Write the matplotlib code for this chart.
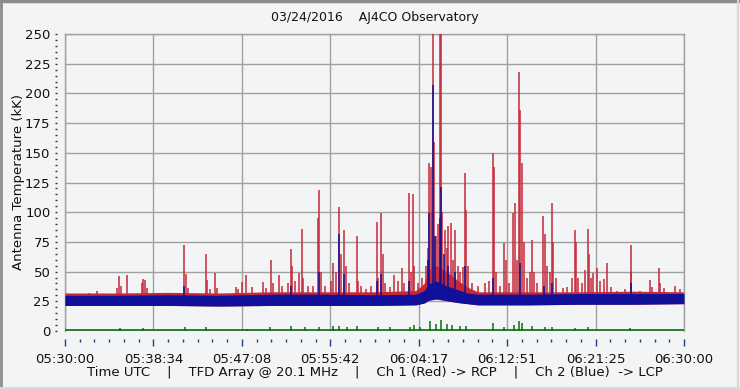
import matplotlib
matplotlib.use("Agg")
import matplotlib.pyplot as plt
import numpy as np
from matplotlib.lines import Line2D

# ---------------- text ----------------
title = "03/24/2016    AJ4CO Observatory"
xlabel = "Time UTC    |    TFD Array @ 20.1 MHz    |    Ch 1 (Red) -> RCP    |    Ch 2 (Blue)  -> LCP"
ylabel = "Antenna Temperature (kK)"
tick_labels = ["05:30:00", "05:38:34", "05:47:08", "05:55:42",
               "06:04:17", "06:12:51", "06:21:25", "06:30:00"]

# ---------------- data (minutes after 05:30:00 UTC, kK) ----------------
band_t = [0, 5, 10, 15, 20, 25, 30, 34, 34.8, 35.3, 36, 37, 38, 39, 40, 45, 50, 55, 60]
red_hi = [32, 32, 32.5, 32, 33, 33, 33, 34, 40, 52, 55, 50, 43, 37, 33, 33, 33, 33.5, 33]
blue_hi = [30, 30, 30.5, 30, 31, 31, 30.5, 31, 34, 40, 42, 38, 35, 32, 31, 31, 31.5, 31.5, 31.5]
blue_lo = [21.5, 21.5, 21.5, 21, 21.5, 21.5, 21.5, 22, 23.5, 26, 27, 25.5, 24, 23, 22, 22, 22.5, 22.5, 23]

red_spike_t = [2.36, 3.13, 5.04, 5.26, 5.43, 6.04, 7.42, 7.59, 7.78, 7.95, 8.82,
               11.56, 11.73, 11.92, 13.67, 13.79, 14.05, 14.54, 14.73, 16.55, 16.77,
               17.19, 17.57, 18.10, 19.22, 19.48, 19.94, 20.16, 20.77, 21.03, 21.61,
               21.90, 22.03, 22.30, 22.65, 22.94, 23.07, 23.55, 24.04, 24.55, 24.65,
               24.82, 25.20, 25.78, 26.00, 26.26, 26.59, 26.76, 27.04, 27.24, 27.53,
               28.27, 28.40, 28.69, 29.18, 29.66, 30.21, 30.34, 30.66, 30.80, 31.02,
               31.50, 31.92, 32.28, 32.63, 32.86, 33.37, 33.49, 33.70, 33.83, 34.22,
               34.60, 34.99, 35.19, 35.31, 35.43, 35.57, 35.70, 35.77, 35.96, 36.15,
               36.35, 36.44, 36.59, 36.86, 37.02, 37.15, 37.41, 37.61, 37.83, 38.09,
               38.29, 38.61, 38.80, 38.90, 39.06, 39.45, 40.03, 40.71, 41.10, 41.52,
               41.61, 41.78, 42.16, 42.58, 42.74, 43.04, 43.46, 43.62, 43.81, 44.04,
               44.10, 44.33, 44.45, 44.78, 45.07, 45.30, 45.46, 45.76, 46.36, 46.55,
               46.72, 47.01, 47.23, 47.35, 47.59, 48.27, 48.63, 49.14, 49.43, 49.53,
               49.72, 50.11, 50.40, 50.69, 50.79, 50.98, 51.21, 51.60, 51.86, 52.27,
               52.57, 52.92, 53.50, 54.28, 54.83, 54.91, 55.74, 56.70, 56.90, 57.58,
               57.68, 58.06, 59.12, 59.60]
red_spike_v = [32, 34, 36, 46, 38, 47, 40, 44, 43, 36, 32,
               72, 48, 36, 65, 43, 35, 49, 36, 37, 35,
               41, 47, 37, 41, 36, 60, 40, 47, 38, 40,
               69, 55, 42, 49, 86, 45, 38, 38, 95, 119,
               50, 38, 42, 57, 50, 104, 65, 85, 55, 40,
               80, 42, 38, 35, 38, 92, 45, 99, 65, 40,
               37, 47, 42, 53, 40, 116, 50, 115, 55, 40,
               45, 55, 70, 141, 138, 100, 260, 159, 80, 90,
               260, 260, 100, 85, 70, 88, 91, 60, 85, 55,
               50, 54, 133, 102, 55, 40, 38, 40, 42, 150,
               138, 50, 38, 74, 60, 40, 99, 108, 60, 218,
               186, 141, 75, 45, 50, 77, 50, 40, 97, 82,
               55, 50, 108, 75, 45, 36, 37, 45, 85, 75,
               45, 40, 51, 86, 65, 45, 49, 53, 42, 44,
               57, 37, 34, 35, 72, 50, 34, 43, 37, 53,
               40, 36, 38, 35]

blue_spike_t = [11.58, 21.90, 24.65, 26.59, 27.04, 30.21, 30.66, 33.37, 35.20, 35.31,
                35.70, 35.90, 36.35, 36.44, 36.70, 37.10, 37.80, 38.80, 41.52, 44.10,
                46.40, 47.20, 54.83]
blue_spike_v = [38, 38, 50, 82, 48, 42, 48, 42, 60, 99,
                207, 80, 95, 121, 65, 55, 50, 55, 45, 57,
                38, 40, 40]

green_base = 0.6
green_t = [5.3, 7.6, 11.6, 13.7, 17.6, 19.9, 21.9, 23.3, 24.6, 26.0, 26.6, 27.3,
           28.3, 30.3, 31.5, 33.4, 33.8, 34.4, 35.4, 36.0, 36.4, 37.0, 37.5, 38.3,
           38.9, 41.5, 42.6, 43.5, 44.0, 44.3, 45.3, 46.5, 47.2, 49.4, 50.7, 54.8]
green_v = [2.5, 2.5, 3, 3.5, 2, 3, 4, 3, 3.5, 4, 4.5, 3,
           4, 3, 3.5, 3, 5, 3, 8, 6, 9, 6, 5, 4,
           4, 7, 3, 5, 8, 7, 4, 3, 3.5, 2.5, 3, 2.5]

# ---------------- style ----------------
BG = "#f3f4f6"
GRID = "#a0a0a0"
RED = "#c62838"
BLUE = "#10109a"
GREEN = "#0b6b12"
TICK = "#203c80"

plt.rcParams["font.family"] = ["DejaVu Sans"]
fig = plt.figure(figsize=(7.4, 3.89), dpi=100, facecolor=BG)
ax = fig.add_axes([65 / 740, 1 - 331 / 389, (684 - 65) / 740, (331 - 34) / 389])
ax.set_facecolor(BG)

# red channel
ax.fill_between(band_t, blue_lo, red_hi, color=RED, lw=0, zorder=2)
ax.vlines(red_spike_t, 27, red_spike_v, color=RED, lw=1.1, zorder=3)
# blue channel
ax.fill_between(band_t, blue_lo, blue_hi, color=BLUE, lw=0, zorder=4)
ax.vlines(blue_spike_t, 27, blue_spike_v, color=BLUE, lw=1.1, zorder=5)
# green channel
ax.axhline(green_base, color=GREEN, lw=1.2, zorder=6)
ax.vlines(green_t, 0, green_v, color=GREEN, lw=1.1, zorder=6)

ax.set_xlim(0, 60)
ax.set_ylim(0, 250)

major_x = np.linspace(0, 60, 8)
ax.set_xticks(major_x)
ax.set_xticklabels(tick_labels)
ax.set_xticks(np.linspace(0, 60, 43), minor=True)
ax.set_yticks(np.arange(0, 251, 25))
ax.set_yticks(np.arange(0, 251, 5), minor=True)

ax.grid(True, which="major", color=GRID, lw=1, zorder=1)
ax.set_axisbelow(True)

for s in ("top", "right"):
    ax.spines[s].set_color(GRID)
    ax.spines[s].set_linewidth(1)
for s in ("left", "bottom"):
    ax.spines[s].set_position(("outward", 6))
    ax.spines[s].set_color("none")
ax.axvline(0, color=GRID, lw=1, clip_on=False, zorder=1)

ax.tick_params(axis="x", which="major", length=5, width=1, color=TICK, pad=5,
               labelsize=9.5, labelcolor="#111111")
ax.tick_params(axis="x", which="minor", length=2.5, width=1, color=TICK)
ax.tick_params(axis="y", which="both", length=1.5, width=1, color="#333333", pad=3,
               labelsize=9.5, labelcolor="#111111")

ax.set_title(title, fontsize=9, color="#111111", pad=9)
ax.set_xlabel(xlabel, fontsize=9.5, color="#111111", labelpad=0)
ax.set_ylabel(ylabel, fontsize=9.5, color="#111111", labelpad=0)

# window border
fig.add_artist(Line2D([0, 1], [0.998, 0.998], transform=fig.transFigure, color="#8c8c8c", lw=2.5))
fig.add_artist(Line2D([0.001, 0.001], [0, 1], transform=fig.transFigure, color="#8c8c8c", lw=2))
fig.add_artist(Line2D([0.997, 0.997], [0, 1], transform=fig.transFigure, color="#d8d8d8", lw=1.5))
fig.add_artist(Line2D([0, 1], [0.003, 0.003], transform=fig.transFigure, color="#d8d8d8", lw=1.5))

fig.savefig("out.png", dpi=100, facecolor=BG)
